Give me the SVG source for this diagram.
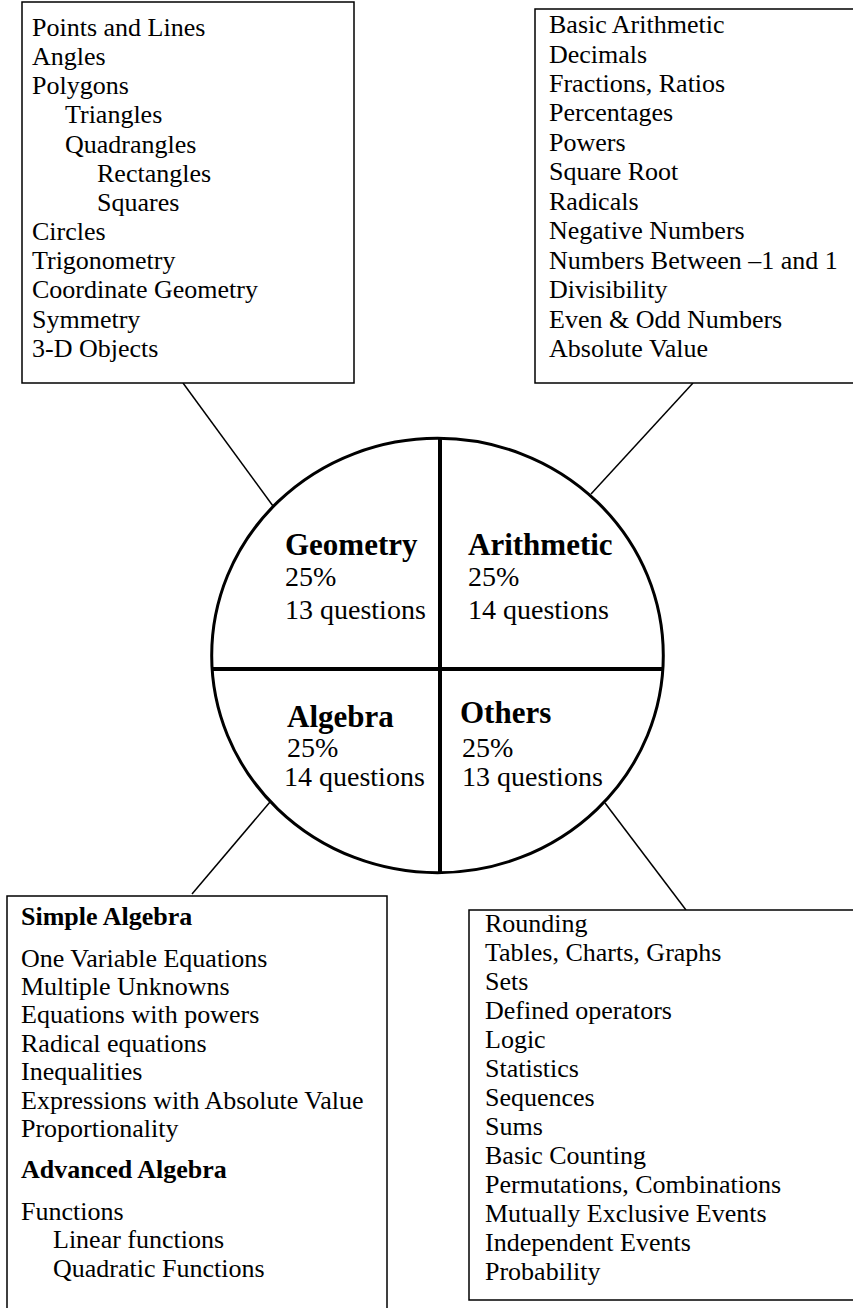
<svg xmlns="http://www.w3.org/2000/svg" width="853" height="1308" viewBox="0 0 853 1308">
<style>
.box{fill:#fff;stroke:#000;stroke-width:1.5}
.t{font-family:"Liberation Serif","Times New Roman",serif;font-size:26px;fill:#000}
.b{font-weight:bold}
.c{font-family:"Liberation Serif","Times New Roman",serif;font-size:28px;fill:#000}
.cb{font-family:"Liberation Serif","Times New Roman",serif;font-size:31px;font-weight:bold;fill:#000}
.conn{stroke:#000;stroke-width:1.5;fill:none}
</style>
<rect width="853" height="1308" fill="#fff"/>
<g id="connectors">
<line class="conn" x1="183" y1="383" x2="273" y2="506"/>
<line class="conn" x1="693" y1="383" x2="591" y2="494"/>
<line class="conn" x1="270" y1="802" x2="192" y2="894"/>
<line class="conn" x1="605" y1="803" x2="686" y2="910"/>
</g>
<g id="center">
<ellipse cx="437.5" cy="655.5" rx="225.8" ry="217.2" fill="none" stroke="#000" stroke-width="3"/>
<line x1="440" y1="438" x2="440" y2="873" stroke="#000" stroke-width="4"/>
<line x1="212" y1="669" x2="663" y2="669" stroke="#000" stroke-width="4"/>
<text class="cb" x="285" y="555">Geometry</text>
<text class="c" x="285" y="586">25%</text>
<text class="c" x="285" y="619">13 questions</text>
<text class="cb" x="468" y="555">Arithmetic</text>
<text class="c" x="468" y="586">25%</text>
<text class="c" x="468" y="619">14 questions</text>
<text class="cb" x="287" y="727">Algebra</text>
<text class="c" x="287" y="757">25%</text>
<text class="c" x="284" y="786">14 questions</text>
<text class="cb" x="460" y="723">Others</text>
<text class="c" x="462" y="757">25%</text>
<text class="c" x="462" y="786">13 questions</text>
</g>
<g id="geometry-box">
<rect class="box" x="22" y="2" width="332" height="381"/>
<text class="t" x="32" y="36">Points and Lines</text>
<text class="t" x="32" y="65">Angles</text>
<text class="t" x="32" y="94">Polygons</text>
<text class="t" x="65" y="123">Triangles</text>
<text class="t" x="65" y="153">Quadrangles</text>
<text class="t" x="97" y="182">Rectangles</text>
<text class="t" x="97" y="211">Squares</text>
<text class="t" x="32" y="240">Circles</text>
<text class="t" x="32" y="269">Trigonometry</text>
<text class="t" x="32" y="298">Coordinate Geometry</text>
<text class="t" x="32" y="328">Symmetry</text>
<text class="t" x="32" y="357">3-D Objects</text>
</g>
<g id="arithmetic-box">
<rect class="box" x="535" y="9" width="330" height="374"/>
<text class="t" x="549" y="33">Basic Arithmetic</text>
<text class="t" x="549" y="62.5">Decimals</text>
<text class="t" x="549" y="92">Fractions, Ratios</text>
<text class="t" x="549" y="121.4">Percentages</text>
<text class="t" x="549" y="150.8">Powers</text>
<text class="t" x="549" y="180.3">Square Root</text>
<text class="t" x="549" y="209.7">Radicals</text>
<text class="t" x="549" y="239.2">Negative Numbers</text>
<text class="t" x="549" y="268.6">Numbers Between –1 and 1</text>
<text class="t" x="549" y="298">Divisibility</text>
<text class="t" x="549" y="327.5">Even &amp; Odd Numbers</text>
<text class="t" x="549" y="357">Absolute Value</text>
</g>
<g id="algebra-box">
<rect class="box" x="7" y="896" width="380" height="430"/>
<text class="t b" x="21" y="925">Simple Algebra</text>
<text class="t" x="21" y="967">One Variable Equations</text>
<text class="t" x="21" y="995">Multiple Unknowns</text>
<text class="t" x="21" y="1023">Equations with powers</text>
<text class="t" x="21" y="1052">Radical equations</text>
<text class="t" x="21" y="1080">Inequalities</text>
<text class="t" x="21" y="1109">Expressions with Absolute Value</text>
<text class="t" x="21" y="1137">Proportionality</text>
<text class="t b" x="21" y="1178">Advanced Algebra</text>
<text class="t" x="21" y="1220">Functions</text>
<text class="t" x="53" y="1248">Linear functions</text>
<text class="t" x="53" y="1277">Quadratic Functions</text>
</g>
<g id="others-box">
<rect class="box" x="469" y="910" width="400" height="390"/>
<text class="t" x="485" y="932">Rounding</text>
<text class="t" x="485" y="961">Tables, Charts, Graphs</text>
<text class="t" x="485" y="990">Sets</text>
<text class="t" x="485" y="1019">Defined operators</text>
<text class="t" x="485" y="1048">Logic</text>
<text class="t" x="485" y="1077">Statistics</text>
<text class="t" x="485" y="1106">Sequences</text>
<text class="t" x="485" y="1135">Sums</text>
<text class="t" x="485" y="1164">Basic Counting</text>
<text class="t" x="485" y="1193">Permutations, Combinations</text>
<text class="t" x="485" y="1222">Mutually Exclusive Events</text>
<text class="t" x="485" y="1251">Independent Events</text>
<text class="t" x="485" y="1280">Probability</text>
</g>
</svg>
